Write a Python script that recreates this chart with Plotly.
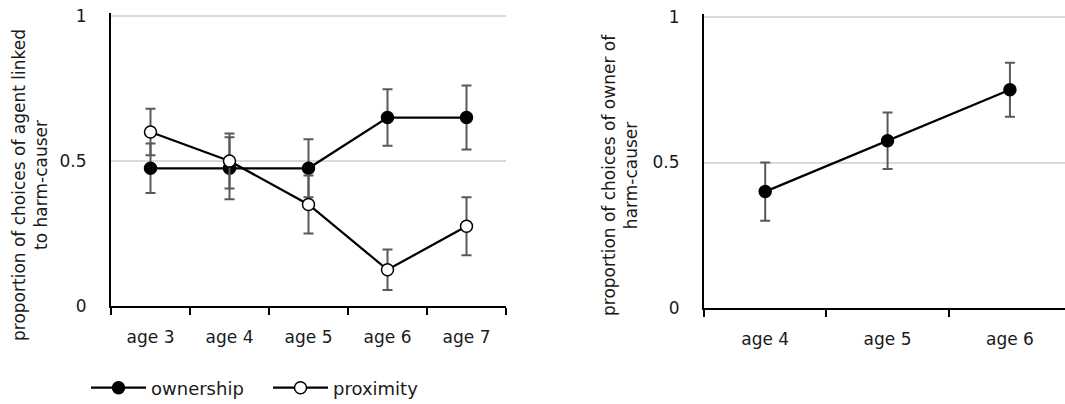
import plotly.graph_objects as go

# ---- data ----
ages_left = ["age 3", "age 4", "age 5", "age 6", "age 7"]
ownership = [0.475, 0.475, 0.475, 0.65, 0.65]
ownership_err = [0.085, 0.107, 0.10, 0.097, 0.11]
proximity = [0.60, 0.50, 0.35, 0.125, 0.275]
proximity_err = [0.08, 0.095, 0.10, 0.07, 0.10]

ages_right = ["age 4", "age 5", "age 6"]
owner_choice = [0.40, 0.575, 0.75]
owner_err = [0.10, 0.097, 0.093]

y_ticks = [0, 0.5, 1]
y_tick_text = ["0", "0.5", "1"]

W, H = 1065, 404
FONT = "DejaVu Sans"
TXT = "#1a1a1a"
ERR = "#595959"
YMAX = 1.01

fig = go.Figure()

def add_series(x, y, err, name, fill, xa, ya, showlegend):
    fig.add_trace(go.Scatter(
        x=x, y=y, name=name, mode="lines+markers",
        line=dict(color="black", width=2.25),
        marker=dict(size=12, color=fill, line=dict(color="black", width=1.5)),
        error_y=dict(type="data", array=err, visible=True, color=ERR, thickness=2, width=5),
        xaxis=xa, yaxis=ya, showlegend=showlegend,
    ))

add_series(ages_left, ownership, ownership_err, "ownership", "black", "x", "y", True)
add_series(ages_left, proximity, proximity_err, "proximity", "white", "x", "y", True)
add_series(ages_right, owner_choice, owner_err, "owner", "black", "x2", "y2", False)

def px_x(p):
    return p / W

def px_y(p):
    return 1 - p / H

def y_domain(px_zero, px_one):
    top = px_zero - (px_zero - px_one) * YMAX
    return [px_y(px_zero), px_y(top)]

axis_common = dict(
    type="category", showline=True, linecolor="black", linewidth=2,
    ticks="outside", tickson="boundaries", ticklen=7, tickwidth=2, tickcolor="black",
    showgrid=False, zeroline=False, ticklabelstandoff=15, automargin=False,
    tickfont=dict(family=FONT, size=17, color=TXT),
)
yaxis_common = dict(
    range=[0, YMAX], tickvals=y_ticks, ticktext=y_tick_text,
    showline=True, linecolor="black", linewidth=2,
    showgrid=True, gridcolor="#d9d9d9", gridwidth=1.5, zeroline=False,
    ticks="", ticklabelstandoff=19, automargin=False,
    tickfont=dict(family=FONT, size=17, color=TXT),
)

fig.update_layout(
    width=W, height=H,
    margin=dict(l=0, r=0, t=0, b=0, autoexpand=False),
    paper_bgcolor="white", plot_bgcolor="white",
    font=dict(family=FONT, color=TXT),
    xaxis=dict(domain=[px_x(111), px_x(506)], anchor="y", range=[-0.5, 4.5], **axis_common),
    yaxis=dict(domain=y_domain(306, 16), anchor="x", **yaxis_common),
    xaxis2=dict(domain=[px_x(704), 1.0], anchor="y2", range=[-0.5, 2.45], **axis_common),
    yaxis2=dict(domain=y_domain(308, 17), anchor="x2", **yaxis_common),
    legend=dict(
        orientation="h", x=px_x(86), y=px_y(388), xanchor="left", yanchor="middle",
        font=dict(family=FONT, size=18, color=TXT),
        itemwidth=55, entrywidth=112, entrywidthmode="pixels",
        bgcolor="rgba(0,0,0,0)", tracegroupgap=0,
    ),
    showlegend=True,
)

fig.add_annotation(
    text="proportion of choices of agent linked<br>to harm-causer",
    xref="paper", yref="paper", x=px_x(30), y=px_y(185),
    xanchor="center", yanchor="middle",
    textangle=-90, showarrow=False, align="center",
    font=dict(family=FONT, size=17, color=TXT),
)
fig.add_annotation(
    text="proportion of choices of owner of<br>harm-causer",
    xref="paper", yref="paper", x=px_x(620), y=px_y(175),
    xanchor="center", yanchor="middle",
    textangle=-90, showarrow=False, align="center",
    font=dict(family=FONT, size=17, color=TXT),
)

fig.write_html("out.html")
